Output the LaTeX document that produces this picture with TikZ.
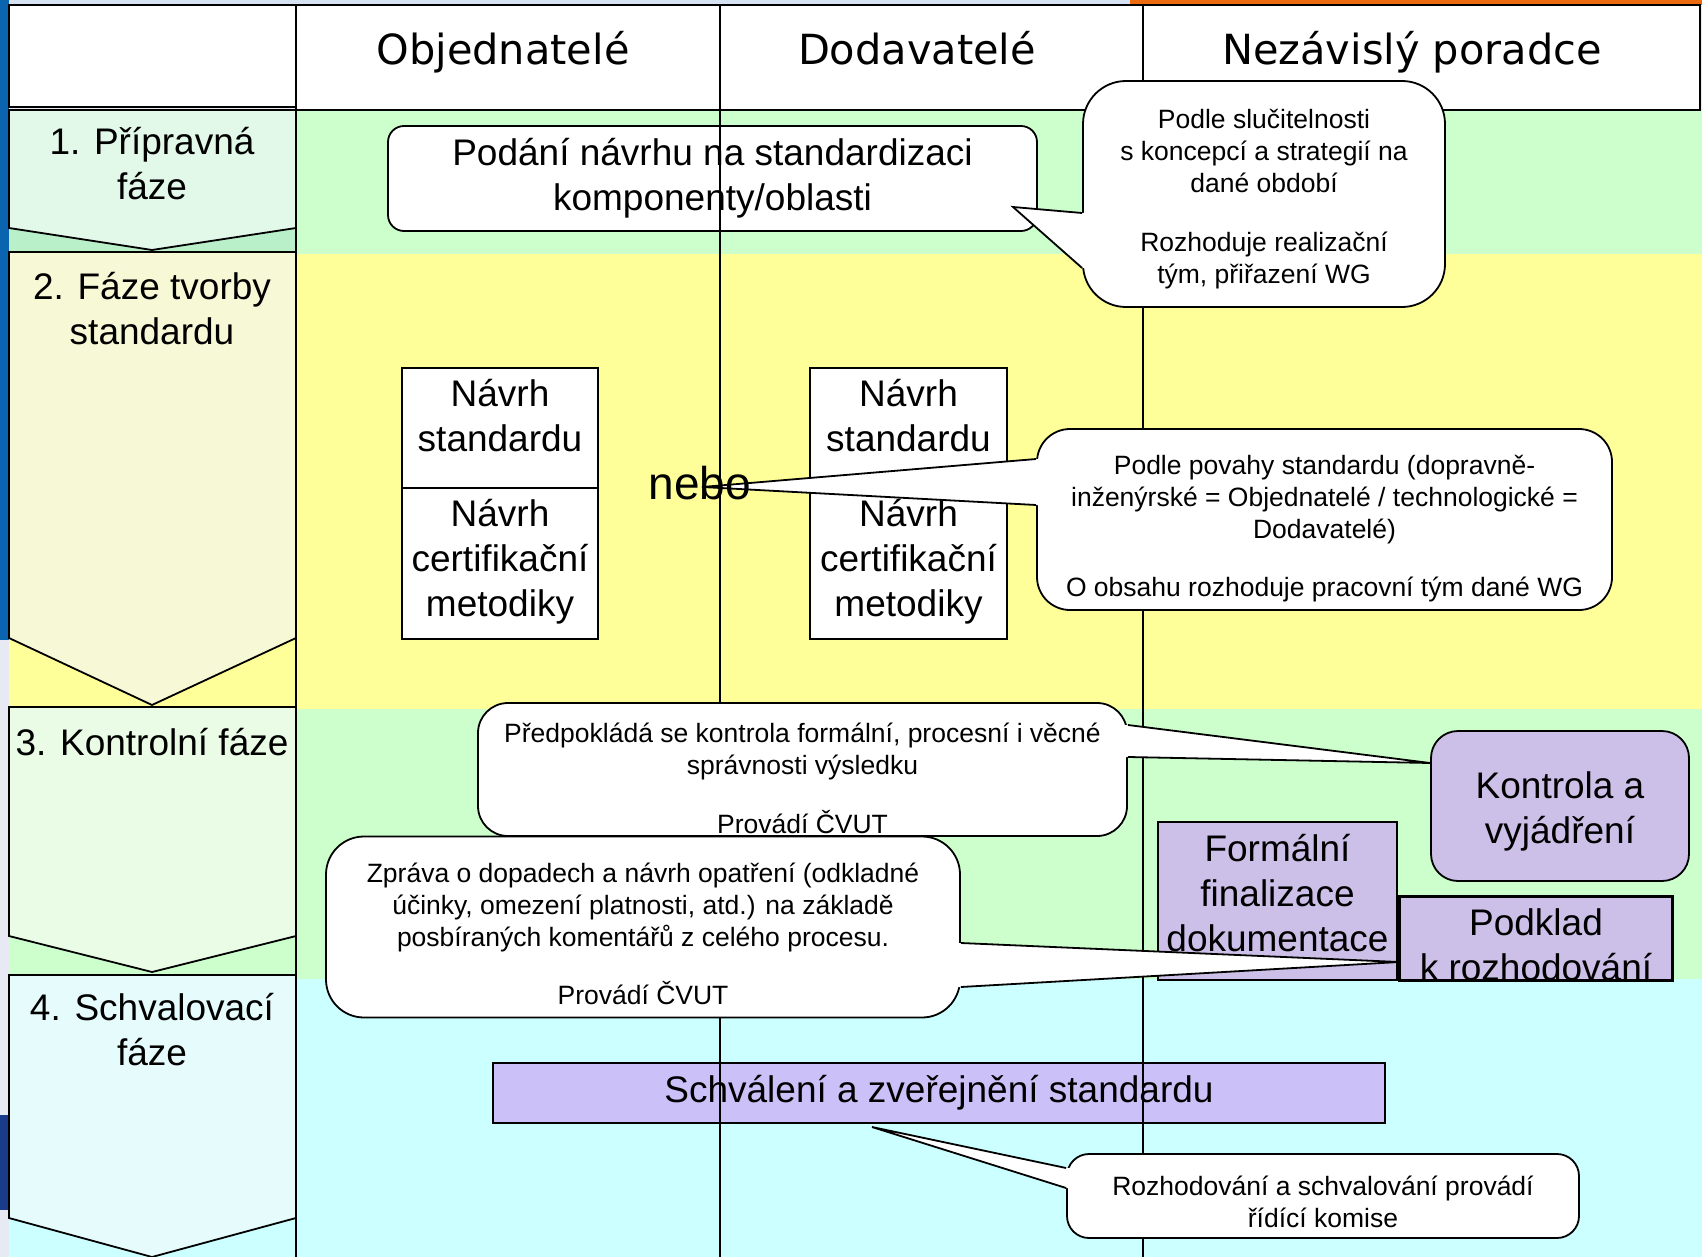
\documentclass[tikz,border=0pt]{standalone}
\usepackage{fontspec}
\setmainfont{Liberation Sans}
\newfontfamily\headfamily{DejaVu Sans}
\usepackage{tikz}
\usetikzlibrary{positioning,calc}

\definecolor{rowgreen}{HTML}{CCFFCC}
\definecolor{rowyellow}{HTML}{FFFF99}
\definecolor{rowcyan}{HTML}{CCFFFF}
\definecolor{phaseA}{HTML}{E2F8E8}
\definecolor{phaseAbg}{HTML}{B9F0CA}
\definecolor{phaseB}{HTML}{F6F8D6}
\definecolor{phaseC}{HTML}{EAFCE6}
\definecolor{phaseD}{HTML}{E6FCFC}
\definecolor{lilac}{HTML}{CCC0E8}
\definecolor{lilacblue}{HTML}{CCC0F8}
\definecolor{slideblue}{HTML}{0B64B0}
\definecolor{slidenavy}{HTML}{1A3A8A}
\definecolor{slidegrey}{HTML}{E7E9F3}
\definecolor{slidepale}{HTML}{D6E2F2}
\definecolor{slideorange}{HTML}{EC6B0E}

\newcommand{\fzHead}{\headfamily\fontsize{41.5}{50}\selectfont}
\newcommand{\fzBox}{\fontsize{37}{45}\selectfont}
\newcommand{\fzNote}{\fontsize{26.5}{32}\selectfont}
\newcommand{\fzNebo}{\fontsize{46}{50}\selectfont}

% white pointer of a callout: base point, tip, base point, inward shift
\newcommand{\callptr}[4]{%
  \fill[white] ($(#1)+(#4,0)$) -- (#1) -- (#2) -- (#3) -- ($(#3)+(#4,0)$) -- cycle;
  \draw[boxline] (#1) -- (#2) -- (#3);}

\begin{document}
\begin{tikzpicture}[x=1pt,y=-1pt,
    laneline/.style={line width=1.5pt},
    boxline/.style={line width=1.8pt},
    headtext/.style={font=\fzHead, inner sep=0pt, anchor=base},
    phasetext/.style={font=\fzBox, align=center, anchor=north, inner sep=0pt},
    boxtext/.style={font=\fzBox, align=center, inner sep=0pt},
    notetext/.style={font=\fzNote, align=center, inner sep=0pt},
    plainbox/.style={draw, boxline, fill=white, inner sep=0pt},
    lilacbox/.style={draw, boxline, fill=lilac, inner sep=0pt},
    callbox/.style={draw, boxline, fill=white, inner sep=0pt}]
    \useasboundingbox (0,0) rectangle (1702,1257);
    \clip (0,0) rectangle (1702,1257);

    % Slide behind the table
    \fill[slidegrey] (0,0) rectangle (1702,1257);
    \fill[slideblue] (0,0) rectangle (9,640);
    \fill[slidenavy] (0,1115) rectangle (9,1210);
    \fill[slidepale] (9,0) rectangle (1130,5);
    \fill[slideorange] (1130,0) rectangle (1702,5);

    % Row bands
    \fill[phaseAbg] (9,110) rectangle (296,254);
    \fill[rowgreen] (296,110) rectangle (1702,255);
    \fill[rowyellow] (9,254) rectangle (1702,709);
    \fill[rowgreen] (9,709) rectangle (1702,979);
    \fill[rowcyan] (9,979) rectangle (1702,1257);

    % Header row
    \draw[laneline, fill=white] (9,5) rectangle (296,107);
    \draw[laneline, fill=white] (296,5) rectangle (1700,110);
    \node[headtext] (objed) at (503,65) {Objednatelé};
    \node[headtext] (dodav) at (917,65) {Dodavatelé};
    \node[headtext] (porad) at (1412,65) {Nezávislý poradce};

    % Phase chevrons
    \filldraw[boxline, fill=phaseA] (9,110) -- (296,110) -- (296,228) -- (152,250) -- (9,228) -- cycle;
    \filldraw[boxline, fill=phaseB] (9,252) -- (296,252) -- (296,638) -- (152,705) -- (9,638) -- cycle;
    \filldraw[boxline, fill=phaseC] (9,707) -- (296,707) -- (296,936) -- (152,972) -- (9,936) -- cycle;
    \filldraw[boxline, fill=phaseD] (9,975) -- (296,975) -- (296,1218) -- (152,1257) -- (9,1218) -- cycle;
    \node[phasetext] (ph1) at (152,127) {1. Přípravná\\fáze};
    \node[phasetext] (ph2) at (152,272) {2. Fáze tvorby\\standardu};
    \node[phasetext] (ph3) at (152,728) {3. Kontrolní fáze};
    \node[phasetext] (ph4) at (152,993) {4. Schvalovací\\fáze};

    % Boxes crossed by the lane lines
    \node[plainbox, boxtext, rounded corners=16pt, minimum width=649pt, minimum height=105pt]
        (podani) at (712.5,178.5) {Podání návrhu na standardizaci\\komponenty/oblasti};
    \node[plainbox, boxtext, fill=lilacblue, minimum width=892pt, minimum height=60pt]
        (schval) at (939,1093) {Schválení a zveřejnění standardu};

    % Lane lines
    \draw[laneline] (296,5) -- (296,1257);
    \draw[laneline] (720,5) -- (720,1257);
    \draw[laneline] (1143,5) -- (1143,1257);

    % Drafts of the two parties
    \node[plainbox, minimum width=196pt, minimum height=120pt] (objstd) at (500,428) {};
    \node[plainbox, minimum width=196pt, minimum height=151pt] (objmet) at (500,563.5) {};
    \node[boxtext, below=12pt of objstd.north] (objstdt) {Návrh\\standardu};
    \node[boxtext, below=12pt of objmet.north] (objmett) {Návrh\\certifikační\\metodiky};
    \node[plainbox, minimum width=197pt, minimum height=120pt] (dodstd) at (908.5,428) {};
    \node[plainbox, minimum width=197pt, minimum height=151pt] (dodmet) at (908.5,563.5) {};
    \node[boxtext, below=12pt of dodstd.north] (dodstdt) {Návrh\\standardu};
    \node[boxtext, below=12pt of dodmet.north] (dodmett) {Návrh\\certifikační\\metodiky};

    % Control phase boxes
    \node[lilacbox, rounded corners=27pt, minimum width=258pt, minimum height=150pt] (kontrola) at (1560,806) {};
    \node[boxtext] (kontrolat) at ($(kontrola.center)+(0,5)$) {Kontrola a\\vyjádření};
    \node[lilacbox, minimum width=239pt, minimum height=158pt] (formal) at (1277.5,901) {};
    \node[boxtext] (formalt) at ($(formal.center)+(0,-8)$) {Formální\\finalizace\\dokumentace};
    \node[lilacbox, minimum width=272pt, minimum height=83pt] (podklad) at (1536,938.5) {};
    \begin{scope}
        \clip (podklad.north west) rectangle (podklad.south east);
        \node[boxtext, anchor=north] (podkladt) at ($(podklad.north)+(0,12)$) {Podklad\\k rozhodování};
    \end{scope}
    \draw[boxline] (podklad.north west) rectangle (podklad.south east);

    % Callouts
    \node[callbox, rounded corners=43pt, minimum width=362pt, minimum height=226pt] (slucit) at (1264,194) {};
    \node[notetext] (slucitt) at ($(slucit.center)+(0,5)$)
        {Podle slučitelnosti\\s koncepcí a strategií na\\dané období\\[26.5pt]Rozhoduje realizační\\tým, přiřazení WG};
    \coordinate (slucittip) at (1013,207);
    \callptr{slucit.west |- 0,213}{slucittip}{slucit.west |- 0,268}{4}

    \node[callbox, rounded corners=33pt, minimum width=575pt, minimum height=181pt] (povaha) at (1324.5,519.5) {};
    \node[notetext] (povahat) at ($(povaha.center)+(0,9)$)
        {Podle povahy standardu (dopravně-\\inženýrské = Objednatelé / technologické =\\Dodavatelé)\\[26.5pt]O obsahu rozhoduje pracovní tým dané WG};
    \coordinate (povahatip) at (702,487);
    \callptr{povaha.west |- 0,459}{povahatip}{povaha.west |- 0,505}{4}
    \node[font=\fzNebo, inner sep=0pt] (nebo) at (700,483) {nebo};

    \node[callbox, rounded corners=30pt, minimum width=649pt, minimum height=133pt] (predpo) at (802.5,769.5) {};
    \node[notetext] (predpot) at ($(predpo.center)+(0,9)$)
        {Předpokládá se kontrola formální, procesní i věcné\\správnosti výsledku\\[26.5pt]Provádí ČVUT};
    \callptr{predpo.east |- 0,725}{kontrola.west |- 0,763}{predpo.east |- 0,757}{-4}

    \node[callbox, rounded corners=38pt, minimum width=634pt, minimum height=181pt] (zprava) at (643,927) {};
    \node[notetext] (zpravat) at ($(zprava.center)+(0,7)$)
        {Zpráva o dopadech a návrh opatření (odkladné\\účinky, omezení platnosti, atd.) na základě\\posbíraných komentářů z celého procesu.\\[26.5pt]Provádí ČVUT};
    \callptr{zprava.east |- 0,943}{podklad.west |- 0,962}{zprava.east |- 0,987}{-4}

    \node[callbox, rounded corners=22pt, minimum width=512pt, minimum height=84pt] (komise) at (1323,1196) {};
    \node[notetext] (komiset) at ($(komise.center)+(0,6)$) {Rozhodování a schvalování provádí\\řídící komise};
    \coordinate (komisetip) at (872,1127);
    \callptr{komise.west |- 0,1168}{komisetip}{komise.west |- 0,1188}{4}
\end{tikzpicture}
\end{document}
